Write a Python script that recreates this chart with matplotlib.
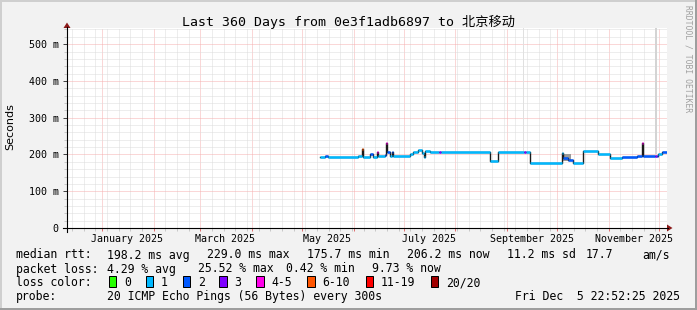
import matplotlib
matplotlib.use('Agg')
import matplotlib.pyplot as plt
import matplotlib.dates as mdates
from matplotlib.patches import Rectangle, Polygon
from matplotlib.lines import Line2D
from matplotlib.ticker import MultipleLocator, FuncFormatter
import pandas as pd

W, H = 697, 310
MONO = ['DejaVu Sans Mono', 'Noto Sans CJK SC']

title = 'Last 360 Days from 0e3f1adb6897 to 北京移动'
t_start = pd.Timestamp('2024-12-10 22:52:25')
t_end = pd.Timestamp('2025-12-05 22:52:25')

# median rtt (ms) as steps: start of each step, value, loss colour index
seg_start = ['2025-05-11 18:00', '2025-05-14 17:00', '2025-05-16 12:00', '2025-06-03 12:00',
             '2025-06-05 20:00', '2025-06-06 08:00', '2025-06-10 17:00', '2025-06-12 12:00',
             '2025-06-14 22:00', '2025-06-15 10:00', '2025-06-19 17:00', '2025-06-20 06:00',
             '2025-06-20 18:00', '2025-06-22 17:00', '2025-06-24 04:00', '2025-06-24 16:00',
             '2025-07-04 17:00', '2025-07-06 12:00', '2025-07-09 12:00', '2025-07-11 22:00',
             '2025-07-13 02:00', '2025-07-13 17:00', '2025-07-16 17:00', '2025-07-22 02:00',
             '2025-07-23 07:00', '2025-08-21 17:00', '2025-08-26 12:00', '2025-09-11 02:00',
             '2025-09-12 07:00', '2025-09-14 17:00', '2025-10-03 22:00', '2025-10-04 12:00',
             '2025-10-07 12:00', '2025-10-10 12:00', '2025-10-16 09:00', '2025-10-25 12:00',
             '2025-11-01 17:00', '2025-11-08 22:00', '2025-11-17 22:00', '2025-11-21 02:00',
             '2025-11-21 14:00', '2025-11-28 17:00', '2025-11-29 17:00', '2025-11-30 12:00',
             '2025-12-02 22:00']
seg_ms = [193, 197, 194, 197,
          214, 194, 202, 194,
          206, 197, 199, 230,
          207, 197, 206, 196,
          201, 206, 211, 204,
          193, 210, 208, 208,
          208, 181, 208, 208,
          208, 177, 205, 190,
          186, 178, 209, 202,
          191, 193, 195, 230,
          196, 196, 196, 200,
          207]
seg_loss = [1, 2, 1, 1,
            5, 1, 2, 1,
            4, 1, 2, 4,
            2, 1, 2, 1,
            1, 1, 1, 1,
            1, 1, 1, 3,
            1, 1, 1, 3,
            1, 1, 1, 2,
            2, 1, 1, 1,
            1, 2, 2, 4,
            2, 3, 2, 1,
            2]

# grey smoke
smoke_start = ['2025-09-10 10:00', '2025-10-04 06:00', '2025-11-28 20:00']
smoke_end = ['2025-09-10 22:00', '2025-10-09 12:00', '2025-11-29 22:00']
smoke_lo = [210, 181, 200]
smoke_hi = [544, 200, 544]
smoke_col = ['#e0e0e0', '#9a9a9a', '#d4d4d4']

loss_labels = ['0', '1', '2', '3', '4-5', '6-10', '11-19', '20/20']
loss_colors = ['#26ff00', '#00b8ff', '#0059ff', '#7e00ff', '#ff00ea', '#ff5500', '#ff0000', '#a10000']

month_labels = ['January 2025', 'March 2025', 'May 2025', 'July 2025', 'September 2025', 'November 2025']
month_label_at = ['2025-01-16', '2025-03-16', '2025-05-16', '2025-07-16', '2025-09-16', '2025-11-16']


def fx(x):
    return x / W


def fy(y):
    return 1 - y / H


fig = plt.figure(figsize=(W / 100, H / 100), dpi=100, facecolor='#f2f2f2')
ax = fig.add_axes([fx(67), fy(228), 600 / W, 200 / H])
ax.set_facecolor('white')
for s in ax.spines.values():
    s.set_visible(False)

ax.set_xlim(t_start, t_end)
ax.set_ylim(0, 544)

ax.xaxis.set_major_locator(mdates.MonthLocator())
ax.xaxis.set_minor_locator(mdates.WeekdayLocator(byweekday=mdates.SA))
ax.yaxis.set_major_locator(MultipleLocator(100))
ax.yaxis.set_minor_locator(MultipleLocator(20))
ax.xaxis.set_major_formatter(FuncFormatter(lambda v, p: ''))
ax.yaxis.set_major_formatter(FuncFormatter(lambda v, p: '0' if v == 0 else '%d m' % v))

ax.grid(which='minor', color='#dcdcdc', lw=0.72, ls=(0, (1, 1)))
ax.grid(which='major', color='#f6b0b0', lw=0.72, ls=(0, (1, 1)))
ax.set_axisbelow(True)

ax.tick_params(axis='x', which='major', length=2, width=0.72, color='#e07070', pad=0)
ax.tick_params(axis='x', which='minor', length=2, width=0.72, color='#c8c8c8')
ax.tick_params(axis='y', which='major', length=3, width=0.72, color='#444444',
               labelsize=7.2, pad=3)
ax.tick_params(axis='y', which='minor', length=2, width=0.72, color='#c8c8c8')
for lab in ax.get_yticklabels():
    lab.set_family(MONO)

# smoke
for a, b, lo, hi, c in zip(smoke_start, smoke_end, smoke_lo, smoke_hi, smoke_col):
    ax.fill_between([pd.Timestamp(a), pd.Timestamp(b)], lo, hi, color=c, lw=0, zorder=2)

# median line
starts = [pd.Timestamp(s) for s in seg_start]
ends = starts[1:] + [t_end]
step_x = []
step_y = []
for s, e, v in zip(starts, ends, seg_ms):
    step_x += [s, e]
    step_y += [v, v]
ax.plot(step_x, step_y, color='#1a1a1a', lw=1.0, zorder=3)
ax.hlines(seg_ms, starts, ends, colors=[loss_colors[i] for i in seg_loss], lw=1.8, zorder=4)

for lab, d in zip(month_labels, month_label_at):
    ax.text(pd.Timestamp(d), -14 / 200, lab, transform=ax.get_xaxis_transform(),
            ha='center', va='baseline', fontsize=7.2, family=MONO)

# axes with arrows
arrow_c = '#8b1a1a'
fig.add_artist(Line2D([fx(63), fx(668)], [fy(228), fy(228)], color='black', lw=0.8))
fig.add_artist(Line2D([fx(67), fx(67)], [fy(232), fy(27)], color='black', lw=0.8))
fig.add_artist(Polygon([(fx(667), fy(224.5)), (fx(667), fy(231.5)), (fx(672.5), fy(228))],
                       closed=True, color=arrow_c, lw=0))
fig.add_artist(Polygon([(fx(63.5), fy(28)), (fx(70.5), fy(28)), (fx(67), fy(22.5))],
                       closed=True, color=arrow_c, lw=0))

# border shades
fig.add_artist(Rectangle((0, 0), fx(2), 1, color='#cfcfcf', lw=0))
fig.add_artist(Rectangle((0, fy(2)), 1, 2 / H, color='#cfcfcf', lw=0))
fig.add_artist(Rectangle((fx(W - 2), 0), 2 / W, 1, color='#9e9e9e', lw=0))
fig.add_artist(Rectangle((0, 0), 1, 2 / H, color='#9e9e9e', lw=0))

fig.text(fx(348.5), fy(26), title, ha='center', va='baseline', fontsize=9.5, family=MONO)
fig.text(fx(10), fy(127), 'Seconds', rotation=90, ha='center', va='center', fontsize=8,
         family='DejaVu Sans')
fig.text(fx(688), fy(5), 'RRDTOOL / TOBI OETIKER', rotation=270, ha='center', va='top',
         fontsize=5.8, color='#a0a0a0', family=MONO)

# legend rows
row1 = [(16, 'median rtt:'), (107.3, '198.2 ms avg'), (207.3, '229.0 ms max'),
        (307.3, '175.7 ms min'), (407.3, '206.2 ms now'), (507.3, '11.2 ms sd'),
        (585.7, '17.7'), (642.3, 'am/s')]
row2 = [(16, 'packet loss:'), (107.3, '4.29 % avg'), (198.3, '25.52 % max'),
        (286, '0.42 % min'), (372.3, '9.73 % now')]
row4 = [(16, 'probe:'), (107.3, '20 ICMP Echo Pings (56 Bytes) every 300s')]
box_x = [108.7, 145.7, 182.7, 219.3, 256, 307, 365.7, 430.7]

for x, s in row1:
    fig.text(fx(x), fy(258.5), s, va='baseline', fontsize=8.3, family=MONO)
for x, s in row2:
    fig.text(fx(x), fy(272.5), s, va='baseline', fontsize=8.3, family=MONO)
fig.text(fx(16), fy(286.5), 'loss color:', va='baseline', fontsize=8.3, family=MONO)
for bx, c, lab in zip(box_x, loss_colors, loss_labels):
    fig.add_artist(Rectangle((fx(bx), fy(286.5)), 7.5 / W, 10.5 / H, facecolor=c,
                             edgecolor='black', lw=0.72))
    fig.text(fx(bx + 15.3), fy(286.5), lab, va='baseline', fontsize=8.3, family=MONO)
for x, s in row4:
    fig.text(fx(x), fy(300), s, va='baseline', fontsize=8.3, family=MONO)
fig.text(fx(680), fy(300), 'Fri Dec  5 22:52:25 2025', ha='right', va='baseline',
         fontsize=8.3, family=MONO)

fig.savefig('out.png', dpi=100, facecolor=fig.get_facecolor())
